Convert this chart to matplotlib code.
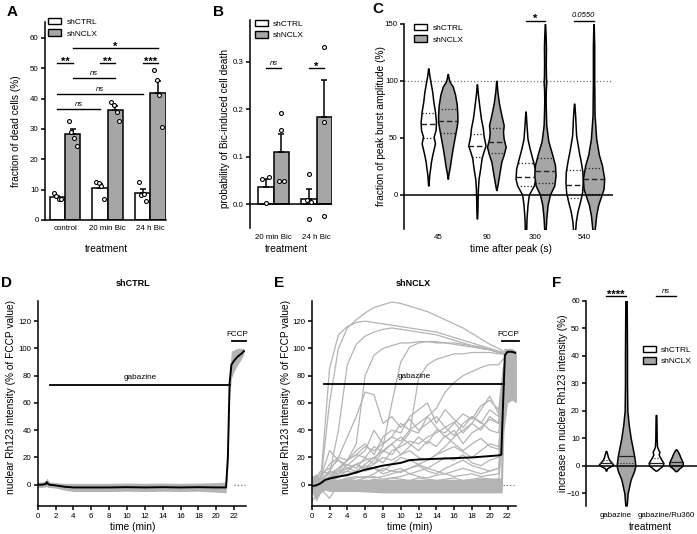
import matplotlib
matplotlib.use("Agg")
import matplotlib.pyplot as plt
from matplotlib.patches import Patch
import numpy as np

plt.rcParams['font.family'] = ['Liberation Sans', 'DejaVu Sans']
plt.rcParams['axes.linewidth'] = 1.1
plt.rcParams['xtick.major.width'] = 1.1
plt.rcParams['ytick.major.width'] = 1.1
plt.rcParams['xtick.major.size'] = 3
plt.rcParams['ytick.major.size'] = 3
plt.rcParams['xtick.labelsize'] = 5.7
plt.rcParams['ytick.labelsize'] = 5.7
plt.rcParams['axes.labelsize'] = 7.3
plt.rcParams['xtick.major.pad'] = 2
plt.rcParams['ytick.major.pad'] = 1.5

GREY = '#a6a6a6'
TRACE = '#b4b4b4'
W, H = 697, 534

# ---------------- data ----------------
# A: fraction of dead cells (%)
a_groups = ['control', '20 min Bic', '24 h Bic']
a_ctrl_pts = [[8.8, 7.8, 6.8, 7.0], [12.4, 12.2, 11.3, 6.8], [12.4, 8.2, 8.6, 6.3]]
a_nclx_pts = [[32.5, 29.0, 27.0, 24.5], [38.7, 38.0, 35.4, 32.5], [49.5, 46.0, 41.0, 30.7]]

# B: probability of Bic-induced cell death
b_groups = ['20 min Bic', '24 h Bic']
b_ctrl_mean = [0.037, 0.012]
b_ctrl_sem = [0.016, 0.020]
b_nclx_mean = [0.110, 0.183]
b_nclx_sem = [0.038, 0.078]
b_ctrl_pts = [[0.054, 0.058, 0.003], [0.063, 0.010, 0.005, -0.030]]
b_nclx_pts = [[0.192, 0.157, 0.048, 0.050], [0.331, 0.174, -0.025]]

# C: violin profiles (value, half width) per time point
c_times = ['45', '90', '300', '540']
c_ctrl_y = [[111, 105, 100, 95, 90, 82, 73, 64, 57, 51, 45, 40, 35, 29, 24, 18, 12, 8],
            [97, 88, 76, 67, 58, 52, 43, 38, 32, 23, 14, 5, -6, -15, -21],
            [73, 61, 49, 41, 32, 23, 14, 8, 0, -9, -21, -32],
            [80, 70, 52, 38, 29, 20, 11, 2, -6, -15, -24, -32]]
c_ctrl_w = [[0.5, 3, 6, 9, 12, 15, 20, 23, 22, 16, 20, 16, 12, 8, 6, 3, 1.5, 0.5],
            [0.5, 3, 8, 12, 18, 20, 26, 20, 14, 10, 5, 3, 2, 1.5, 0.5],
            [0.5, 3, 6, 12, 20, 28, 30, 25, 10, 6, 3, 2],
            [0.5, 3, 6, 14, 20, 25, 26, 24, 18, 10, 5, 3]]
c_nclx_y = [[106, 102, 99, 95, 88, 79, 70, 64, 57, 49, 41, 32, 24, 18, 14],
            [100, 91, 80, 70, 61, 55, 49, 42, 35, 29, 20, 11, 4],
            [150, 140, 129, 115, 104, 99, 92, 82, 70, 61, 47, 35, 26, 17, 8, 0, -9, -21, -32],
            [150, 130, 100, 85, 70, 49, 35, 26, 14, 5, -2, -9, -18, -32]]
c_nclx_w = [[0.5, 3, 6, 15, 22, 27, 29, 29, 25, 20, 15, 10, 6, 2, 0.5],
            [0.5, 3, 8, 15, 22, 20, 22, 28, 22, 15, 10, 5, 0.5],
            [0.5, 2, 3, 2.5, 3, 4, 2.5, 2, 3, 4, 10, 22, 30, 32, 28, 15, 8, 4, 2],
            [0.5, 2, 2, 2.5, 3, 8, 16, 25, 32, 30, 22, 14, 8, 3]]
c_ctrl_med = [61.8, 42.6, 15.6, 8.8]
c_ctrl_q1 = [50.0, 33.2, 7.6, -2.6]
c_ctrl_q3 = [72.0, 53.0, 28.0, 22.0]
c_nclx_med = [64.7, 45.9, 21.0, 13.5]
c_nclx_q1 = [53.8, 37.0, 10.6, 0.9]
c_nclx_q3 = [75.3, 58.8, 31.8, 23.5]

# D: shCTRL mean trace and spread (min, %)
d_t = [0, 0.5, 0.9, 1.0, 1.1, 1.3, 2, 3, 4, 6, 8, 10, 12, 14, 16, 18, 20, 21.1, 21.3, 21.5, 21.7, 22.0, 22.4, 22.8, 23.1]
d_mean = [0, 0, 0.5, 2, 1, 0, -0.5, -1.5, -2, -2, -2, -1.8, -2, -1.8, -2, -1.8, -2, -2, 20, 75, 88, 91, 94, 96, 98]
d_sd = [2, 2, 2, 3, 3, 2, 2, 2.5, 3, 3, 3, 3, 3, 3, 3, 3, 3.5, 4, 6, 10, 10, 8, 6, 4, 2]

# E: shNCLX single-cell traces (min, %)
e_t = [0, 1, 2, 3, 4, 5, 6, 7, 8, 9, 10, 11, 12, 13, 14, 15, 16, 17, 18, 19, 20, 21, 21.5, 22, 22.5, 23]
tr01 = [0, 1, 60, 100, 115, 121, 126, 130, 132, 134, 133, 131, 129, 127, 124, 121, 118, 115, 111, 107, 103, 100, 98, 97, 95, 92]
tr02 = [0, 2, 85, 110, 116, 119, 120, 119, 118, 117, 116, 115, 114, 113, 112, 110, 108, 106, 104, 102, 100, 98, 97, 96, 94, 90]
tr03 = [1, 3, 8, 40, 88, 103, 109, 112, 114, 115, 114, 113, 112, 111, 110, 108, 106, 104, 102, 100, 99, 97, 96, 95, 93, 88]
tr04 = [0, 2, 5, 10, 18, 30, 80, 95, 100, 102, 104, 104, 105, 105, 104, 104, 103, 102, 101, 100, 99, 97, 97, 96, 94, 90]
tr05 = [0, -2, 3, 6, 10, 15, 12, 18, 28, 60, 90, 101, 104, 105, 105, 104, 104, 103, 102, 101, 99, 97, 96, 95, 92, 86]
tr06 = [0, 1, 4, 8, 12, 10, 15, 20, 25, 22, 30, 38, 78, 88, 92, 94, 96, 96, 97, 97, 97, 96, 96, 95, 93, 88]
tr07 = [-1, 0, 6, 12, 18, 22, 28, 25, 30, 35, 32, 40, 45, 50, 56, 68, 75, 80, 83, 86, 88, 88, 92, 95, 94, 90]
tr08 = [0, 2, 10, 20, 35, 50, 68, 66, 45, 50, 42, 48, 40, 45, 50, 42, 46, 38, 45, 40, 50, 45, 70, 95, 93, 90]
tr09 = [0, 5, 15, 20, 18, 25, 30, 22, 35, 40, 38, 50, 55, 60, 45, 55, 48, 42, 50, 45, 55, 50, 80, 97, 95, 92]
tr10 = [0, 8, 12, 18, 14, 20, 25, 40, 30, 35, 45, 40, 38, 50, 42, 35, 40, 30, 38, 42, 48, 45, 80, 98, 96, 92]
tr11 = [0, 4, 10, 8, 15, 12, 20, 15, 25, 30, 22, 28, 35, 30, 40, 38, 45, 52, 48, 58, 62, 55, 85, 98, 96, 94]
tr12 = [0, 2, 6, 10, 12, 15, 18, 20, 16, 25, 28, 32, 30, 35, 38, 42, 36, 45, 50, 46, 40, 38, 70, 95, 92, 88]
tr13 = [0, 10, 8, 12, 18, 22, 20, 28, 24, 30, 35, 30, 25, 32, 28, 36, 30, 25, 30, 34, 28, 26, 60, 92, 90, 85]
tr14 = [0, 3, 5, 8, 10, 8, 12, 15, 20, 18, 22, 25, 20, 18, 22, 25, 28, 24, 20, 25, 30, 28, 65, 94, 92, 88]
tr15 = [0, 0, 2, 5, 8, 10, 14, 12, 10, 15, 20, 18, 15, 12, 16, 20, 18, 22, 16, 14, 18, 20, 55, 90, 88, 82]
tr16 = [0, 1, 2, 3, 5, 6, 5, 8, 12, 10, 9, 12, 14, 10, 8, 12, 15, 18, 14, 12, 10, 12, 50, 88, 85, 80]
tr17 = [0, 5, 25, 18, 12, 15, 10, 12, 8, 10, 12, 8, 10, 12, 10, 8, 10, 12, 10, 8, 10, 12, 45, 90, 88, 84]
tr18 = [0, 1, 2, 3, 4, 5, 6, 5, 6, 8, 10, 12, 15, 18, 22, 28, 35, 40, 45, 55, 65, 52, 75, 96, 94, 90]
tr19 = [-12, -5, 0, 2, 4, 3, 5, 6, 4, 5, 6, 8, 6, 5, 7, 8, 6, 7, 8, 6, 7, 8, 40, 85, 82, 78]
tr20 = [0, -3, -10, 0, 2, 3, 2, 4, 3, 5, 4, 3, 5, 4, 3, 4, 5, 3, 4, 5, 4, 3, 35, 88, 86, 80]
e_traces = [tr01, tr02, tr03, tr04, tr05, tr06, tr07, tr08, tr09, tr10,
            tr11, tr12, tr13, tr14, tr15, tr16, tr17, tr18, tr19, tr20]
# envelope of the many non-responding cells
e_band_t = [0, 0.5, 1, 1.5, 2, 3, 5, 8, 11, 14, 17, 20, 21.2, 21.4, 21.6, 22, 22.5, 23]
e_band_lo = [-5, -12, -6, -4, -5, -5, -5, -6, -6, -6, -6, -6, -6, -6, 40, 60, 62, 60]
e_band_hi = [6, 8, 5, 4, 4, 4, 4, 4, 4, 4, 4, 5, 5, 60, 100, 100, 100, 98]
e_mean_t = [0, 0.5, 1, 1.5, 2, 3, 4, 5, 6, 7, 8, 9, 10, 11, 12, 14, 16, 18, 20, 21, 21.3, 21.5, 21.7, 22, 22.5, 23]
e_mean = [-1, -0.5, 1, 3.5, 4.5, 6, 7, 9, 11, 12.5, 14, 15, 16, 18, 18.5, 19, 19.5, 20, 21, 21.5, 22, 60, 95, 97.5, 97.5, 96.5]

# F: violin profiles
f_groups = ['gabazine', 'gabazine/Ru360']
f_ctrl_y = [[5.3, 4, 3, 2, 1, 0.3, -0.5, -1, -1.8],
            [18.4, 15, 10, 7, 6, 5, 4, 3, 2, 1, 0, -1, -1.8]]
f_ctrl_w = [[1, 4, 6, 10, 17, 22, 10, 3, 1],
            [1, 1.5, 2, 3, 6, 10, 8, 12, 17, 22, 20, 10, 2]]
f_nclx_y = [[60, 50, 40, 30, 20, 15, 10, 5, 3, 0, -2, -5, -10, -14.5],
            [5.9, 5, 4, 3, 2, 1, 0, -1, -2]]
f_nclx_w = [[2, 2.5, 3, 3, 4, 8, 14, 22, 25, 28, 24, 14, 5, 2],
            [1, 6, 10, 13, 17, 20, 20, 10, 2]]
f_ctrl_med = [0.8, 0.9]
f_ctrl_q = [2.0, 2.7]
f_nclx_med = [3.5, 1.2]
f_nclx_q = [0.8, 0.4]

# ---------------- helpers ----------------
fig = plt.figure(figsize=(W / 100, H / 100), dpi=100)


def add_ax(l, t, r, b):
    return fig.add_axes([l / W, 1 - b / H, (r - l) / W, (b - t) / H])


def clean(ax, bottom=True):
    ax.spines['top'].set_visible(False)
    ax.spines['right'].set_visible(False)
    if not bottom:
        ax.spines['bottom'].set_visible(False)


def add_legend(ax, x, y, loc='upper left'):
    hs = [Patch(facecolor='white', edgecolor='k', lw=1.0, label='shCTRL'),
          Patch(facecolor=GREY, edgecolor='k', lw=1.0, label='shNCLX')]
    ax.legend(handles=hs, loc=loc, bbox_to_anchor=(x, y), frameon=False, fontsize=6.0,
              handlelength=1.6, handleheight=0.8, handletextpad=0.6, labelspacing=0.4,
              borderpad=0, borderaxespad=0)


def bracket(ax, x0, x1, y, txt, italic=False, stars=False):
    ax.plot([x0, x1], [y, y], color='k', lw=1.0, clip_on=False)
    if stars:
        ax.annotate(txt, xy=((x0 + x1) / 2, y), xytext=(0, -2.6), textcoords='offset points',
                    ha='center', va='bottom', fontsize=8, fontweight='bold',
                    annotation_clip=False)
    else:
        ax.annotate(txt, xy=((x0 + x1) / 2, y), xytext=(0, 0.8), textcoords='offset points',
                    ha='center', va='bottom', fontsize=5.5, annotation_clip=False,
                    style='italic' if italic else 'normal')


def violin(ax, cx, ys, ws, scale, color, lines=()):
    ys = np.asarray(ys, float)
    ws = np.asarray(ws, float) * scale
    ax.fill_betweenx(ys, cx - ws, cx + ws, facecolor=color, edgecolor='k', lw=1.1, zorder=3)
    for val, ls, lw in lines:
        hw = np.interp(val, ys[::-1], ws[::-1])
        ax.plot([cx - hw, cx + hw], [val, val], color='#222222', ls=ls, lw=lw, zorder=4)


def panel_letter(x, y, s):
    fig.text(x / W, 1 - y / H, s, ha='center', va='center', fontsize=11, fontweight='bold')


# ---------------- A ----------------
axA = add_ax(45, 22, 166, 220)
clean(axA)
xa = np.arange(len(a_groups))
bw = 0.36
jit4 = [-0.09, -0.03, 0.03, 0.09]
for pts_list, off, col in [(a_ctrl_pts, -bw / 2, 'white'), (a_nclx_pts, bw / 2, GREY)]:
    m = [np.mean(p) for p in pts_list]
    s = [np.std(p, ddof=1) / np.sqrt(len(p)) for p in pts_list]
    axA.bar(xa + off, m, bw, color=col, edgecolor='k', lw=1.1, zorder=2)
    axA.errorbar(xa + off, m, yerr=[np.zeros(len(m)), s], fmt='none', ecolor='k',
                 elinewidth=1.1, capsize=2.5, capthick=1.1, zorder=3)
    for i, p in enumerate(pts_list):
        axA.scatter(xa[i] + off + np.array(jit4[:len(p)]), p, s=8, facecolor='white',
                    edgecolor='k', lw=0.8, zorder=4)
axA.set_xlim(-0.47, 2.37)
axA.set_ylim(0, 65.2)
axA.set_yticks(range(0, 61, 10))
axA.set_xticks(xa)
axA.set_xticklabels(a_groups)
axA.tick_params(axis='x', length=0, pad=3.5)
wa, ga = xa - bw / 2, xa + bw / 2
bracket(axA, ga[0], ga[2], 56.5, '*', stars=True)
for i, st in enumerate(['**', '**', '***']):
    bracket(axA, wa[i], ga[i], 51.6, st, stars=True)
bracket(axA, ga[0], ga[1], 46.8, 'ns', italic=True)
bracket(axA, wa[0], wa[2], 41.4, 'ns', italic=True)
bracket(axA, wa[0], wa[1], 36.6, 'ns', italic=True)
axA.set_ylabel('fraction of dead cells (%)')
axA.yaxis.set_label_coords(-0.2, 0.45)
axA.set_xlabel('treatment')
axA.xaxis.set_label_coords(0.51, -0.12)
add_legend(axA, 0.025, 1.02)

# ---------------- B ----------------
axB = add_ax(250, 20, 332, 228)
clean(axB, bottom=False)
xb = np.arange(len(b_groups))
jitb = [[[-0.09, 0.08, 0.0], [0.0, -0.04, 0.04, 0.0]], [[0.0, 0.0, -0.06, 0.07], [0.0, 0.0, 0.0]]]
for k, (mean, sem, pts_list, off, col) in enumerate([
        (b_ctrl_mean, b_ctrl_sem, b_ctrl_pts, -bw / 2, 'white'),
        (b_nclx_mean, b_nclx_sem, b_nclx_pts, bw / 2, GREY)]):
    axB.bar(xb + off, mean, bw, color=col, edgecolor='k', lw=1.1, zorder=2)
    axB.errorbar(xb + off, mean, yerr=[np.zeros(len(mean)), sem], fmt='none', ecolor='k',
                 elinewidth=1.1, capsize=2.5, capthick=1.1, zorder=3)
    for i, p in enumerate(pts_list):
        axB.scatter(xb[i] + off + np.array(jitb[k][i]), p, s=8, facecolor='white',
                    edgecolor='k', lw=0.8, zorder=4)
axB.axhline(0, color='k', lw=1.1, zorder=3)
axB.set_xlim(-0.55, 1.36)
axB.set_ylim(-0.05, 0.388)
axB.set_yticks([0, 0.1, 0.2, 0.3])
axB.set_yticklabels(['0.0', '0.1', '0.2', '0.3'])
axB.set_xticks(xb)
axB.set_xticklabels(b_groups)
axB.tick_params(axis='x', length=0, pad=4)
bracket(axB, xb[0] - bw / 2, xb[0] + bw / 2, 0.287, 'ns', italic=True)
bracket(axB, xb[1] - bw / 2, xb[1] + bw / 2, 0.287, '*', stars=True)
axB.set_ylabel('probability of Bic-induced cell death')
axB.yaxis.set_label_coords(-0.25, 0.48)
axB.set_xlabel('treatment')
axB.xaxis.set_label_coords(0.45, -0.077)
add_legend(axB, 0.06, 1.0)

# ---------------- C ----------------
axC = add_ax(404, 24, 613, 228.7)
clean(axC, bottom=False)
xc = np.arange(len(c_times))
off_c = 0.2
scale_c = 1 / 146
axC.axhline(100, color='#777777', ls=':', lw=0.9, zorder=1)
for i in range(len(c_times)):
    violin(axC, xc[i] - off_c, c_ctrl_y[i], c_ctrl_w[i], scale_c, 'white',
           [(c_ctrl_med[i], (0, (4, 2)), 1.0), (c_ctrl_q1[i], ':', 0.9), (c_ctrl_q3[i], ':', 0.9)])
    violin(axC, xc[i] + off_c, c_nclx_y[i], c_nclx_w[i], scale_c, GREY,
           [(c_nclx_med[i], (0, (4, 2)), 1.0), (c_nclx_q1[i], ':', 0.9), (c_nclx_q3[i], ':', 0.9)])
axC.axhline(0, color='k', lw=1.1, zorder=5)
axC.set_xlim(-0.7, 3.6)
axC.set_ylim(-30, 150)
axC.set_yticks([0, 50, 100, 150])
axC.set_xticks(xc)
axC.set_xticklabels(c_times)
axC.tick_params(axis='x', length=0, pad=4)
bracket(axC, xc[2] - off_c, xc[2] + off_c, 153, '*', stars=True)
bracket(axC, xc[3] - off_c, xc[3] + off_c, 153, '0.0550', italic=True)
axC.set_ylabel('fraction of peak burst amplitude (%)')
axC.yaxis.set_label_coords(-0.086, 0.5)
axC.set_xlabel('time after peak (s)')
axC.xaxis.set_label_coords(0.51, -0.075)
add_legend(axC, 0.048, 1.0)

# ---------------- D ----------------
axD = add_ax(37.7, 300.7, 245.7, 505.7)
clean(axD)
dm = np.array(d_mean)
dsd = np.array(d_sd)
axD.fill_between(d_t, dm - dsd, np.minimum(dm + dsd, 100), color=TRACE, lw=0, zorder=2)
axD.plot(d_t, d_mean, color='k', lw=1.4, zorder=3)
axD.plot([22.0, 23.2], [0, 0], color='#777777', ls=':', lw=0.9)
axD.plot([1.4, 21.5], [73.5, 73.5], color='k', lw=1.3, zorder=4)
axD.text(11.5, 76, 'gabazine', ha='center', va='bottom', fontsize=5.9)
axD.plot([21.8, 23.3], [105.5, 105.5], color='k', lw=1.3, clip_on=False)
axD.text(22.4, 108, 'FCCP', ha='center', va='bottom', fontsize=5.9)
axD.set_xlim(0, 23.3)
axD.set_ylim(-15.4, 135)
axD.set_xticks(range(0, 23, 2))
axD.set_yticks(range(0, 121, 20))
axD.set_ylabel('nuclear Rh123 intensity (% of FCCP value)')
axD.yaxis.set_label_coords(-0.104, 0.53)
axD.set_xlabel('time (min)')
axD.xaxis.set_label_coords(0.458, -0.08)
fig.text(133 / W, 1 - 283 / H, 'shCTRL', ha='center', va='center', fontsize=6.5, fontweight='bold')

# ---------------- E ----------------
axE = add_ax(311.7, 300.7, 516, 505.7)
clean(axE)
axE.fill_between(e_band_t, e_band_lo, e_band_hi, color=TRACE, lw=0, zorder=2)
for tr in e_traces:
    axE.plot(e_t, tr, color=TRACE, lw=0.9, zorder=2)
axE.plot(e_mean_t, e_mean, color='k', lw=1.4, zorder=4)
axE.plot([21.5, 23.0], [0, 0], color='#777777', ls=':', lw=0.9)
axE.plot([1.4, 21.6], [74, 74], color='k', lw=1.3, zorder=5)
axE.text(11.5, 76.5, 'gabazine', ha='center', va='bottom', fontsize=5.9, zorder=5)
axE.plot([21.35, 23.3], [105.5, 105.5], color='k', lw=1.3, clip_on=False, zorder=5)
axE.text(22.1, 108, 'FCCP', ha='center', va='bottom', fontsize=5.9, zorder=5)
axE.set_xlim(0, 22.95)
axE.set_ylim(-15.4, 135)
axE.set_xticks(range(0, 23, 2))
axE.set_yticks(range(0, 121, 20))
axE.set_ylabel('nuclear Rh123 intensity (% of FCCP value)')
axE.yaxis.set_label_coords(-0.101, 0.53)
axE.set_xlabel('time (min)')
axE.xaxis.set_label_coords(0.48, -0.08)
fig.text(413 / W, 1 - 283 / H, 'shNCLX', ha='center', va='center', fontsize=6.5, fontweight='bold')

# ---------------- F ----------------
axF = add_ax(586, 300.7, 697, 506)
clean(axF, bottom=False)
xf = np.arange(len(f_groups))
off_f = 0.2
scale_f = 1 / 149
for i in range(len(f_groups)):
    violin(axF, xf[i] - off_f, f_ctrl_y[i], f_ctrl_w[i], scale_f, 'white',
           [(f_ctrl_med[i], '-', 0.9), (f_ctrl_q[i], ':', 0.8)])
    violin(axF, xf[i] + off_f, f_nclx_y[i], f_nclx_w[i], scale_f, GREY,
           [(f_nclx_med[i], '-', 0.9), (f_nclx_q[i], ':', 0.8)])
axF.axhline(0, color='k', lw=1.1, zorder=5)
axF.set_xlim(-0.6, 1.62)
axF.set_ylim(-14.7, 60)
axF.set_yticks(range(-10, 61, 10))
axF.set_xticks(xf)
axF.set_xticklabels(f_groups)
axF.tick_params(axis='x', length=0, pad=4)
bracket(axF, xf[0] - off_f, xf[0] + off_f, 61.7, '****', stars=True)
bracket(axF, xf[1] - off_f, xf[1] + off_f, 61.7, 'ns', italic=True)
axF.set_ylabel('increase in nuclear Rh123 intensity (%)')
axF.yaxis.set_label_coords(-0.162, 0.5)
axF.set_xlabel('treatment')
axF.xaxis.set_label_coords(0.577, -0.078)
add_legend(axF, 0.51, 0.78)

# panel letters
panel_letter(12, 12, 'A')
panel_letter(219, 12, 'B')
panel_letter(378, 9, 'C')
panel_letter(6, 283, 'D')
panel_letter(279, 283, 'E')
panel_letter(557, 283, 'F')

fig.savefig('out.png', dpi=100)
